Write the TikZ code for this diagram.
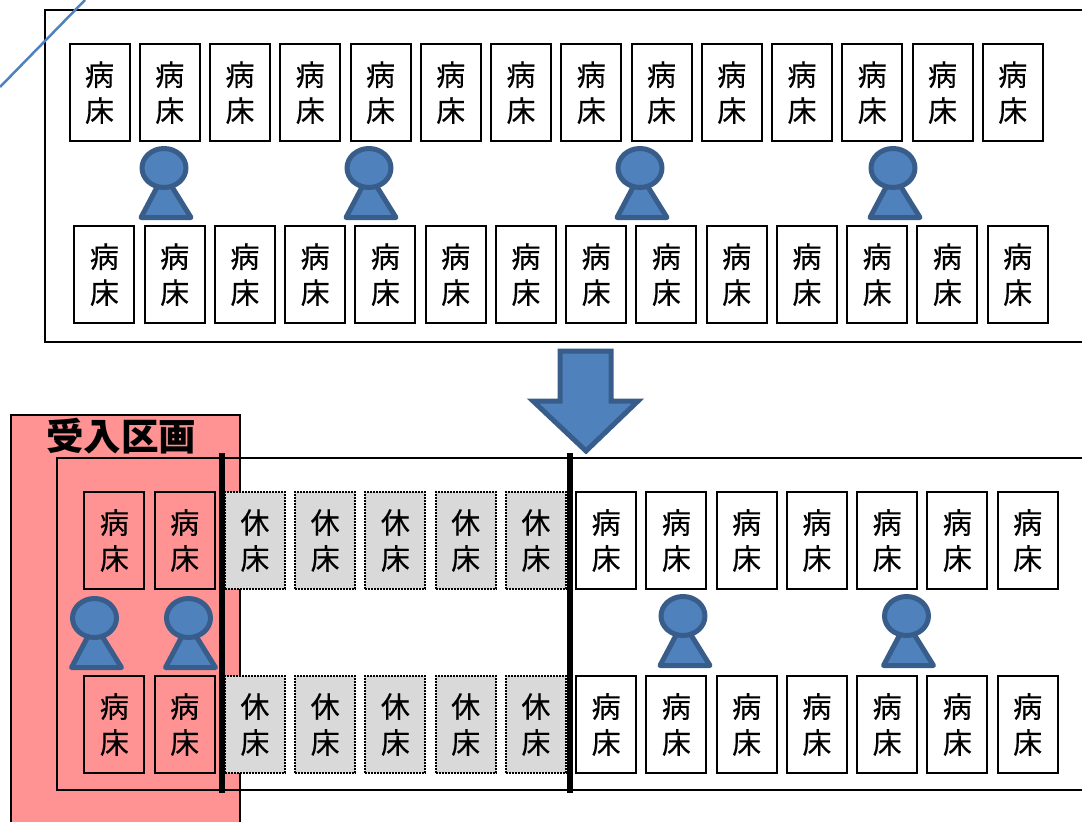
\documentclass[tikz,border=0pt]{standalone}
\usepackage{fontspec}
\setmainfont{Noto Sans CJK JP}
\newfontfamily\bedfont[FakeBold=0.3]{Noto Sans CJK JP}
\definecolor{pblue}{HTML}{4F81BD}
\definecolor{pedge}{HTML}{385D8A}
\definecolor{ppink}{HTML}{FF9393}
\definecolor{pgray}{HTML}{D9D9D9}
\tikzset{
  bed/.style={draw=black,line width=2pt,minimum width=60pt,minimum height=97pt,inner sep=0pt,align=center,
    font=\bedfont\fontsize{29}{36}\selectfont},
  restbed/.style={bed,fill=pgray,densely dotted},
  frame/.style={draw=black,line width=2pt},
  bluepart/.style={fill=pblue,draw=pedge,line width=5pt,line join=round},
  bar/.style={fill=black,draw=none},
}
\newcommand{\staff}[2]{%
  \draw[bluepart] (#1,#2+6) -- (#1-23,#2+49.5) -- (#1+27,#2+49.5) -- cycle;
  \draw[bluepart] (#1,#2) ellipse [x radius=22,y radius=19.5];
}
\begin{document}
\begin{tikzpicture}[x=1pt,y=-1pt]
\useasboundingbox (0,0) rectangle (1082,822);
\clip (0,0) rectangle (1082,822);
% receiving zone
\draw[frame,fill=ppink] (10.7,415) rectangle (240,840);
\node[font=\fontsize{37.5}{40}\selectfont\bfseries] (zone) at (121,436) {受入区画};
% frames
\draw[frame] (45,9.7) rectangle (1100,342);
\draw[frame] (57,457.7) rectangle (1100,790);
% diagonal line
\draw[pblue,line width=2.5pt] (85,0) -- (0,87);
% top rows
\foreach \i in {0,...,13} {
  \node[bed] (a\i) at ({99.5+70.25*\i},92.6) {病\\床};
  \node[bed] (b\i) at ({104.4+70.25*\i},274.6) {病\\床};
}
% lower rows
\foreach \i in {0,1,7,8,...,13} {
  \node[bed] (c\i) at ({114.4+70.25*\i},540.5) {病\\床};
  \node[bed] (d\i) at ({114.4+70.25*\i},724.5) {病\\床};
}
\foreach \i in {2,...,6} {
  \node[restbed] (c\i) at ({114.4+70.25*\i},540.5) {休\\床};
  \node[restbed] (d\i) at ({114.4+70.25*\i},724.5) {休\\床};
}
% staff
\staff{164}{168}
\staff{369}{168}
\staff{640}{168}
\staff{893}{168}
\staff{94.5}{618}
\staff{188.5}{618}
\staff{683}{616}
\staff{906.5}{616}
% arrow
\draw[bluepart,line join=miter,miter limit=10] (560,351) -- (611,351) -- (611,401) -- (638,401) -- (586,451) -- (533,401) -- (560,401) -- cycle;
% bars
\fill[bar] (218.5,453) rectangle (225,793);
\fill[bar] (566.5,453) rectangle (573,793);
\end{tikzpicture}
\end{document}
